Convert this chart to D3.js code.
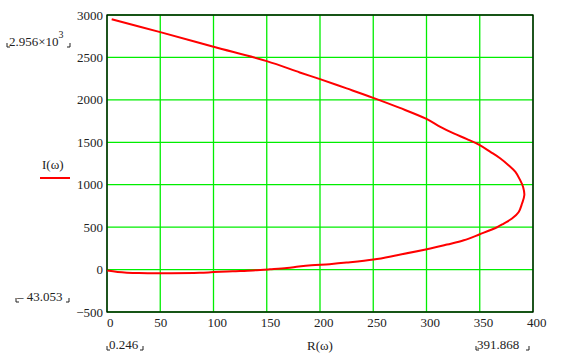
<!DOCTYPE html>
<html>
<head>
<meta charset="utf-8">
<script src="https://cdn.jsdelivr.net/npm/d3@7"></script>
<style>
  body { margin: 0; background: #fff; }
  text { font-family: "Liberation Serif", "Times New Roman", serif; font-size: 13px; fill: #222; }
</style>
</head>
<body>
<svg width="561" height="363"></svg>
<script>
// curve, from the top end round to the bottom end
var R = [4.4, 50, 100, 150, 181, 200, 225, 250, 275, 300, 313, 325.5, 338, 350, 360, 369.4, 377, 383.5, 388, 390.7, 391.868, 389.7, 386.6, 380.3, 372.5, 366.3, 350, 335, 319.3, 303.6, 272.3, 250.3, 225, 209, 192, 180, 169, 153, 137, 118, 100, 87, 60, 30, 10, 0.246];
var I = [2950, 2798, 2625, 2456, 2323, 2244, 2135, 2024, 1905, 1775, 1682, 1604, 1537, 1466, 1387, 1309, 1230, 1151, 1053, 974, 878, 778, 679, 601, 542, 499, 416, 345, 295, 248, 169, 118, 82, 64, 50, 35, 18, 3, -10, -20, -30, -38, -43.053, -41, -28, -12];
var xTicks = [0, 50, 100, 150, 200, 250, 300, 350, 400];
var yTicks = [-500, 0, 500, 1000, 1500, 2000, 2500, 3000];
var xLimits = ["0.246", "391.868"];
var yLimitLow = "\u2013 43.053";

var svg = d3.select("svg"),
  pLeft = 107, pRight = 533, pTop = 15, pBottom = 312;

var x = d3.scaleLinear().domain([0, 400]).range([pLeft, pRight]);
var y = d3.scaleLinear().domain([-500, 3000]).range([pBottom, pTop]);

var data = R.map(function(r, i) { return {r: r, i: I[i]}; });

// green grid
svg.append("g").selectAll("line")
  .data(xTicks)
  .enter().append("line")
    .attr("x1", function(d) { return x(d); })
    .attr("x2", function(d) { return x(d); })
    .attr("y1", pTop).attr("y2", pBottom)
    .attr("stroke", "#00ee00").attr("stroke-width", 1.3);

svg.append("g").selectAll("line")
  .data(yTicks)
  .enter().append("line")
    .attr("y1", function(d) { return y(d); })
    .attr("y2", function(d) { return y(d); })
    .attr("x1", pLeft).attr("x2", pRight)
    .attr("stroke", "#00ee00").attr("stroke-width", 1.3);

// frame
svg.append("rect")
  .attr("x", pLeft).attr("y", pTop)
  .attr("width", pRight - pLeft).attr("height", pBottom - pTop)
  .attr("fill", "none").attr("stroke", "#000").attr("stroke-width", 1.3);

var line = d3.line()
  .x(function(d) { return x(d.r); })
  .y(function(d) { return y(d.i); })
  .curve(d3.curveCatmullRom);

svg.append("path")
  .datum(data)
  .attr("d", line)
  .attr("fill", "none")
  .attr("stroke", "#ff0000")
  .attr("stroke-width", 2);

// tick labels
svg.append("g").selectAll("text")
  .data(yTicks)
  .enter().append("text")
    .attr("x", pLeft - 4)
    .attr("y", function(d) { return y(d) + 4.5; })
    .attr("text-anchor", "end")
    .text(function(d) { return d < 0 ? "\u2212" + Math.abs(d) : d; });

svg.append("g").selectAll("text")
  .data(xTicks)
  .enter().append("text")
    .attr("x", function(d) { return d == 0 ? pLeft : x(d) - 6; })
    .attr("y", 327)
    .text(function(d) { return d; });

// little corner marks round the limit labels
function corners(x0, x1, yb) {
  svg.append("path")
    .attr("d", "M" + x0 + "," + (yb - 4) + "V" + yb + "H" + (x0 + 3) +
               "M" + x1 + "," + (yb - 4) + "V" + yb + "H" + (x1 - 3))
    .attr("fill", "none").attr("stroke", "#222").attr("stroke-width", 1);
}

var top3 = svg.append("text").attr("x", 9).attr("y", 46);
top3.append("tspan").text("2.956\u00d710");
top3.append("tspan").attr("dy", -8).style("font-size", "10px").text("3");
corners(7, 70, 47);

svg.append("text").attr("x", 17).attr("y", 301).text(yLimitLow);
corners(16, 69, 302);

svg.append("text").attr("x", 109).attr("y", 349).text(xLimits[0]);
corners(107, 143, 350);

svg.append("text").attr("x", 477).attr("y", 349).text(xLimits[1]);
corners(476, 529, 350);

// axis names
svg.append("text").attr("x", 307).attr("y", 350).text("R(\u03c9)");
svg.append("text").attr("x", 42).attr("y", 169).text("I(\u03c9)");
svg.append("line")
  .attr("x1", 40).attr("x2", 70)
  .attr("y1", 178).attr("y2", 178)
  .attr("stroke", "#ff0000").attr("stroke-width", 2);
</script>
</body>
</html>
